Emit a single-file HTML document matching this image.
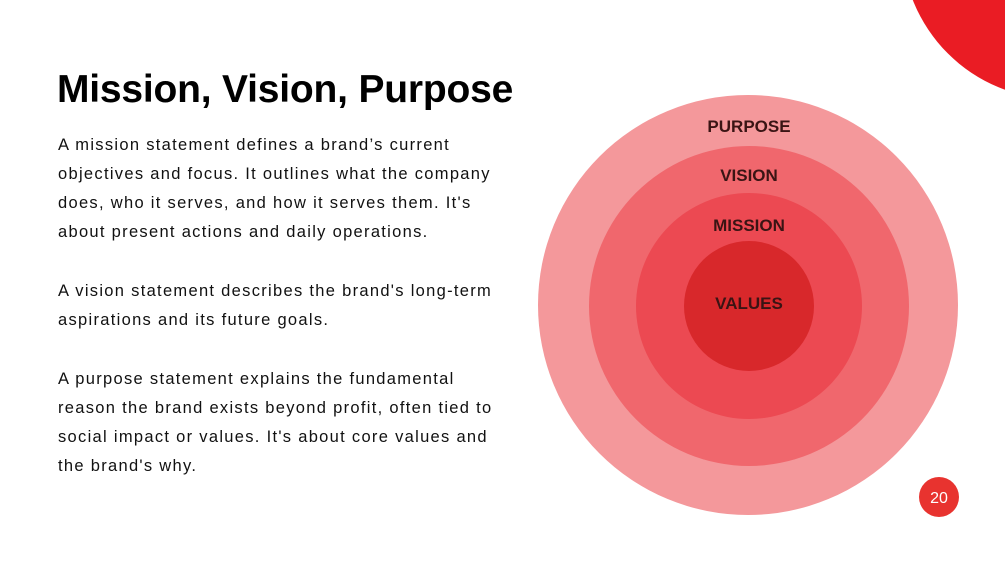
<!DOCTYPE html>
<html><head><meta charset="utf-8"><style>
body{margin:0;width:1005px;height:565px;background:#fff;position:relative;overflow:hidden;font-family:"Liberation Sans",sans-serif}
h1{position:absolute;left:57px;top:68px;margin:0;font-size:39px;font-weight:bold;color:#000;letter-spacing:-0.2px;white-space:nowrap}
.p{position:absolute;left:58px;font-size:16.5px;letter-spacing:1.3px;line-height:29px;color:#111;white-space:nowrap}
</style></head><body>
<h1>Mission, Vision, Purpose</h1>
<div class="p" style="top:131px">A mission statement defines a brand’s current<br>objectives and focus. It outlines what the company<br>does, who it serves, and how it serves them. It's<br>about present actions and daily operations.</div>
<div class="p" style="top:277px">A vision statement describes the brand's long-term<br>aspirations and its future goals.</div>
<div class="p" style="top:365px">A purpose statement explains the fundamental<br>reason the brand exists beyond profit, often tied to<br>social impact or values. It's about core values and<br>the brand's why.</div>
<svg width="1005" height="565" style="position:absolute;left:0;top:0">
<circle cx="1058" cy="-57" r="156" fill="#ea1c24"/>
<circle cx="748" cy="305" r="210" fill="#f4989b"/>
<circle cx="749" cy="306" r="160" fill="#f0676d"/>
<circle cx="749" cy="306" r="113" fill="#ec4952"/>
<circle cx="749" cy="306" r="65" fill="#d8282b"/>
<g font-family="Liberation Sans,sans-serif" font-weight="bold" font-size="17" fill="#3a1414" text-anchor="middle">
<text x="749" y="132">PURPOSE</text>
<text x="749" y="181">VISION</text>
<text x="749" y="231">MISSION</text>
<text x="749" y="309">VALUES</text>
</g>
<circle cx="939" cy="497" r="20" fill="#e8332f"/>
<text x="939" y="503" font-family="Liberation Sans,sans-serif" font-size="16" fill="#fff" text-anchor="middle">20</text>
</svg>
</body></html>
